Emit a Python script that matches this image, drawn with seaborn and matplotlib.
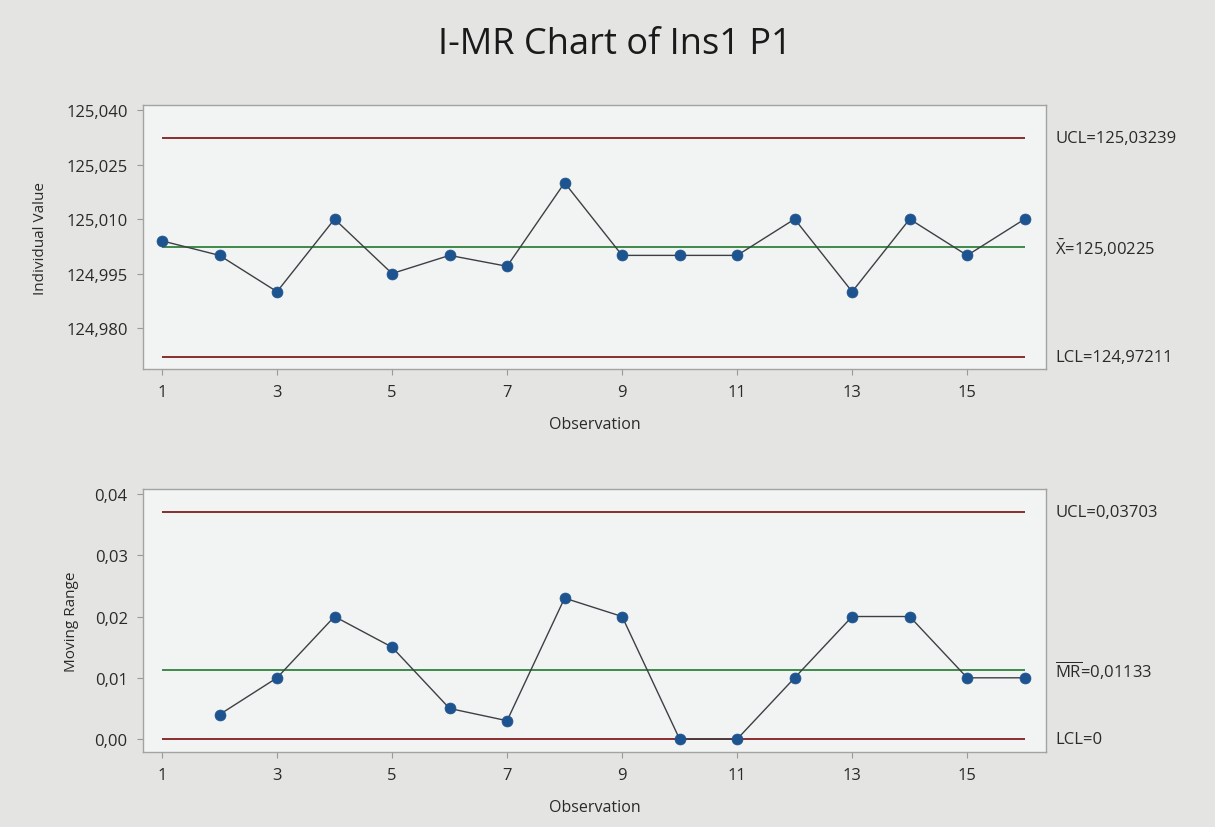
import matplotlib
matplotlib.use("Agg")
import matplotlib.pyplot as plt
import matplotlib.transforms as mtransforms
from matplotlib.ticker import FuncFormatter
import seaborn as sns
import pandas as pd


# === DATA ===
observations = list(range(1, 17))
individual_values = [125.004, 125.000, 124.990, 125.010, 124.995, 125.000, 124.997, 125.020,
                     125.000, 125.000, 125.000, 125.010, 124.990, 125.010, 125.000, 125.010]
mr_observations = list(range(2, 17))
moving_ranges = [0.004, 0.010, 0.020, 0.015, 0.005, 0.003, 0.023, 0.020,
                 0.000, 0.000, 0.010, 0.020, 0.020, 0.010, 0.010]

i_ucl, i_center, i_lcl = 125.03239, 125.00225, 124.97211
mr_ucl, mr_center, mr_lcl = 0.03703, 0.01133, 0.0

i_labels = ["UCL=125,03239", r"$\bar{\mathrm{X}}$=125,00225", "LCL=124,97211"]
mr_labels = ["UCL=0,03703", r"$\overline{\mathrm{MR}}$=0,01133", "LCL=0"]
x_ticks = [1, 3, 5, 7, 9, 11, 13, 15]

df_i = pd.DataFrame({"Observation": observations, "Value": individual_values})
df_mr = pd.DataFrame({"Observation": mr_observations, "Value": moving_ranges})

# === STYLE ===
sns.set_theme(style="white")
plt.rcParams["font.family"] = ["Open Sans", "DejaVu Sans"]
plt.rcParams["mathtext.fontset"] = "custom"
plt.rcParams["mathtext.rm"] = "Open Sans"
plt.rcParams["mathtext.it"] = "Open Sans:italic"

BG = "#e4e4e2"
PLOT_BG = "#f2f3f3"
LIMIT_COLOR = "#8a2d2d"
CENTER_COLOR = "#3f8a4a"
LINE_COLOR = "#3c3f44"
DOT_COLOR = "#1d5490"
TEXT_COLOR = "#2a2a2a"

fig = plt.figure(figsize=(12.15, 8.28), dpi=100, facecolor=BG)
ax_i = fig.add_axes([0.1177, 0.5531, 0.7432, 0.3188])
ax_mr = fig.add_axes([0.1177, 0.0906, 0.7432, 0.3176])

fig.text(0.506, 0.946, "I-MR Chart of Ins1 P1", ha="center", va="center",
         fontsize=26, color="#1a1a1a")


def draw_panel(ax, df, limits, labels, ylim, yticks, yfmt, ylabel, ylabel_x):
    ax.set_facecolor(PLOT_BG)
    ucl, center, lcl = limits
    ax.hlines([ucl, lcl], 1, 16, colors=LIMIT_COLOR, linewidth=1.4)
    ax.hlines(center, 1, 16, colors=CENTER_COLOR, linewidth=1.4)
    sns.lineplot(data=df, x="Observation", y="Value", ax=ax, color=LINE_COLOR,
                 linewidth=1.0, zorder=3)
    sns.scatterplot(data=df, x="Observation", y="Value", ax=ax, color=DOT_COLOR,
                    s=62, edgecolor=DOT_COLOR, linewidth=0.5, zorder=4)

    ax.set_xlim(0.67, 16.37)
    ax.set_ylim(*ylim)
    ax.set_xticks(x_ticks)
    ax.set_yticks(yticks)
    ax.yaxis.set_major_formatter(FuncFormatter(lambda v, p: format(v, yfmt).replace(".", ",")))
    ax.tick_params(axis="both", which="major", length=4, width=0.8, color="#9a9a9a",
                   labelsize=12, labelcolor=TEXT_COLOR, pad=7, bottom=True, left=True)
    for sp in ax.spines.values():
        sp.set_color("#a3a3a3")
        sp.set_linewidth(1.0)

    ax.set_xlabel("Observation", fontsize=11.5, color=TEXT_COLOR)
    ax.xaxis.set_label_coords(0.5, -0.178)
    ax.set_ylabel(ylabel, fontsize=11, color=TEXT_COLOR)
    ax.yaxis.set_label_coords(ylabel_x, 0.5)

    trans = mtransforms.blended_transform_factory(ax.transAxes, ax.transData)
    for val, lab in zip(limits, labels):
        ax.text(1.010, val, lab, transform=trans, ha="left", va="center",
                fontsize=12, color=TEXT_COLOR)


draw_panel(ax_i, df_i, (i_ucl, i_center, i_lcl), i_labels,
           (124.9687, 125.0414), [124.980, 124.995, 125.010, 125.025, 125.040], ".3f",
           "Individual Value", -0.105)
draw_panel(ax_mr, df_mr, (mr_ucl, mr_center, mr_lcl), mr_labels,
           (-0.0021, 0.0408), [0.00, 0.01, 0.02, 0.03, 0.04], ".2f",
           "Moving Range", -0.071)

fig.savefig("out.png", dpi=100, facecolor=BG)
